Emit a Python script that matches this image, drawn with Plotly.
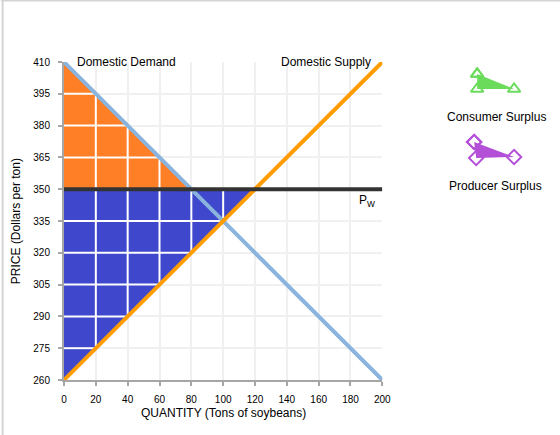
import numpy as np
import plotly.graph_objects as go

# ---- data ----
demand_q = [0, 200]
demand_p = [410, 260]
supply_q = [0, 200]
supply_p = [260, 410]
world_price = 350
x_ticks = [0, 20, 40, 60, 80, 100, 120, 140, 160, 180, 200]
y_ticks = [260, 275, 290, 305, 320, 335, 350, 365, 380, 395, 410]
legend_labels = ["Consumer Surplus", "Producer Surplus"]

# ---- layout constants (pixels) ----
W, H = 560, 435
K = 560 / 551.0          # horizontal calibration of the rendered page
ML = round(63 * K)
MR, MT, MB = 0, 62, 55
PW_ = W - ML - MR
PH_ = H - MT - MB
plot_w = (382 - 63) * K
xdom = plot_w / PW_


def dem(x):
    return np.interp(x, demand_q, demand_p)


def sup(x):
    return np.interp(x, supply_q, supply_p)


q_d = float(np.interp(world_price, demand_p[::-1], demand_q[::-1]))
q_s = float(np.interp(world_price, supply_p, supply_q))

fig = go.Figure()

# consumer surplus (orange)
fig.add_trace(go.Scatter(x=[0, q_d, 0, 0], y=[world_price, world_price, dem(0), world_price],
                         fill="toself", fillcolor="#FF7F27", mode="none", hoverinfo="skip"))
# producer surplus (blue)
fig.add_trace(go.Scatter(x=[0, q_s, 0, 0], y=[world_price, world_price, sup(0), world_price],
                         fill="toself", fillcolor="#3F48CC", mode="none", hoverinfo="skip"))

# white grid lines over the surplus areas
gx, gy = [], []
for xv in x_ticks:
    if 0 < xv < q_d:
        gx += [xv, xv, None]; gy += [world_price, float(dem(xv)), None]
    if 0 < xv < q_s:
        gx += [xv, xv, None]; gy += [float(sup(xv)), world_price, None]
for yv in y_ticks:
    if world_price < yv < dem(0):
        gx += [0, float(np.interp(yv, demand_p[::-1], demand_q[::-1])), None]; gy += [yv, yv, None]
    if sup(0) < yv < world_price:
        gx += [0, float(np.interp(yv, supply_p, supply_q)), None]; gy += [yv, yv, None]
fig.add_trace(go.Scatter(x=gx, y=gy, mode="lines", line=dict(color="white", width=2),
                         hoverinfo="skip"))

# demand
fig.add_trace(go.Scatter(x=demand_q, y=demand_p, mode="lines",
                         line=dict(color="#8AB4DE", width=4), cliponaxis=False))
# supply
fig.add_trace(go.Scatter(x=supply_q, y=supply_p, mode="lines",
                         line=dict(color="#FF9C00", width=4), cliponaxis=False))
# world price
fig.add_trace(go.Scatter(x=[demand_q[0], demand_q[-1]], y=[world_price, world_price], mode="lines",
                         line=dict(color="#333333", width=4), cliponaxis=False))

# legend icons (helper axes in reference-pixel units)
lx0 = (ML + 0.68 * PW_) / K
fig.add_trace(go.Scatter(x=[477, 514, 477, 477], y=[74, 89, 89, 74], xaxis="x2", yaxis="y2",
                         fill="toself", fillcolor="#6ADB5A", mode="markers",
                         marker=dict(symbol="triangle-up-open", size=11, color="#6ADB5A",
                                     line=dict(width=2)), hoverinfo="skip", cliponaxis=False))
fig.add_trace(go.Scatter(x=[474, 514, 476, 474], y=[142, 157, 158, 142], xaxis="x2", yaxis="y2",
                         fill="toself", fillcolor="#B44FD8", mode="markers",
                         marker=dict(symbol="diamond-open", size=11, color="#B44FD8",
                                     line=dict(width=2)), hoverinfo="skip", cliponaxis=False))

font = "Liberation Sans, Arial, sans-serif"
ann = []
ann.append(dict(x=496, y=117, xref="x2", yref="y2", text=legend_labels[0], showarrow=False,
                font=dict(size=12, color="black")))
ann.append(dict(x=495, y=186, xref="x2", yref="y2", text=legend_labels[1], showarrow=False,
                font=dict(size=12, color="black")))
ann.append(dict(x=demand_q[0], y=demand_p[0], xref="x", yref="y", text="Domestic Demand",
                showarrow=False, xanchor="left", yanchor="middle", xshift=11,
                font=dict(size=12, color="black")))
ann.append(dict(x=supply_q[-1], y=supply_p[-1], xref="x", yref="y", text="Domestic Supply",
                showarrow=False, xanchor="right", yanchor="middle", xshift=-9,
                font=dict(size=12, color="black")))
ann.append(dict(x=184, y=world_price, xref="x", yref="y", text="P<sub>W</sub>",
                showarrow=False, xanchor="left", yanchor="top", yshift=-2,
                font=dict(size=12, color="black")))
ann.append(dict(x=(15 * K - ML) / PW_, y=0.5, xref="paper", yref="paper",
                text="PRICE (Dollars per ton)", showarrow=False, textangle=-90,
                xanchor="center", yanchor="middle", font=dict(size=12, color="black")))
ann.append(dict(x=0.5 * xdom, y=-(413 - (H - MB)) / PH_,
                xref="paper", yref="paper", text="QUANTITY (Tons of soybeans)",
                showarrow=False, xanchor="center", yanchor="middle",
                font=dict(size=12, color="black")))

shapes = [
    dict(type="line", xref="paper", yref="paper", x0=(0 - ML) / PW_, x1=(W * K + 5 - ML) / PW_,
         y0=(H - MB - 0.5) / PH_, y1=(H - MB - 0.5) / PH_, line=dict(color="#d4d4d4", width=2)),
    dict(type="line", xref="paper", yref="paper", x0=(1.5 - ML) / PW_, x1=(1.5 - ML) / PW_,
         y0=-MB / PH_, y1=(H - MB) / PH_, line=dict(color="#d4d4d4", width=2)),
]

axis_common = dict(showline=True, linecolor="#a6a6a6", linewidth=2, ticks="outside",
                   ticklen=4, tickwidth=2, tickcolor="#a6a6a6", showgrid=True,
                   gridcolor="#f0f0f0", gridwidth=2, zeroline=False,
                   tickfont=dict(size=10, color="black", family=font))

fig.update_layout(
    width=W, height=H, autosize=False,
    margin=dict(l=ML, r=MR, t=MT, b=MB, pad=0),
    paper_bgcolor="white", plot_bgcolor="white",
    showlegend=False,
    font=dict(family=font, color="black"),
    xaxis=dict(range=[0, 200], domain=[0, xdom], tickvals=x_ticks, ticklabelstandoff=5,
               **axis_common),
    yaxis=dict(range=[260, 410], domain=[0, 1], tickvals=y_ticks, ticklabelstandoff=6,
               **axis_common),
    xaxis2=dict(domain=[0.68, 1], range=[lx0, W / K], visible=False, anchor="y2"),
    yaxis2=dict(domain=[0, 1], range=[H - MB, MT], visible=False, anchor="x2"),
    annotations=ann,
    shapes=shapes,
)

fig.write_html("out.html", config={"responsive": False})
